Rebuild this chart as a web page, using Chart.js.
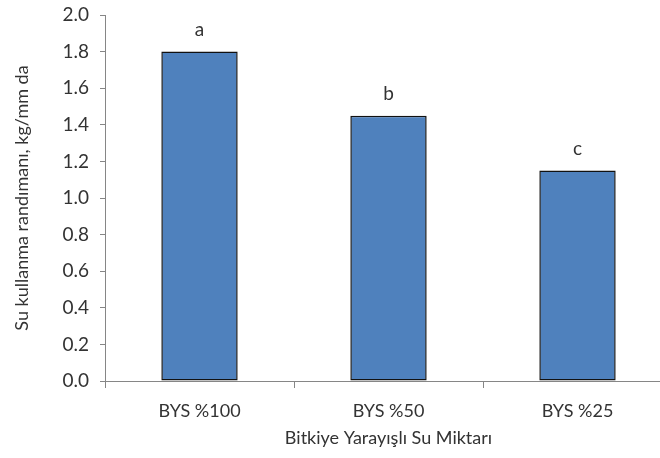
<!DOCTYPE html>
<html>
<head>
<meta charset="utf-8">
<script src="https://cdn.jsdelivr.net/npm/chart.js@4"></script>
<style>
  html, body { margin: 0; padding: 0; background: #fff; overflow: hidden; }
  #wrap { width: 672px; height: 458px; }
</style>
</head>
<body>
<div id="wrap"><canvas id="wueChart"></canvas></div>
<script>
// data
const categories = ['BYS %100', 'BYS %50', 'BYS %25'];
const wueValues = [1.80, 1.45, 1.15];
const groupLetters = ['a', 'b', 'c'];

const textColor = '#333333';
const axisColor = '#868686';
const fontFamily = 'Lato, "Open Sans", sans-serif';

// letters above bars
const letterPlugin = {
    id: 'groupLetters',
    afterDatasetsDraw(chart) {
        const ctx = chart.ctx;
        const meta = chart.getDatasetMeta(0);
        ctx.save();
        ctx.fillStyle = textColor;
        ctx.font = '19px ' + fontFamily;
        ctx.textAlign = 'center';
        ctx.textBaseline = 'middle';
        meta.data.forEach((bar, i) => {
            ctx.fillText(groupLetters[i], bar.x, bar.y - 22);
        });
        ctx.restore();
    }
};

new Chart(document.getElementById('wueChart'), {
    type: 'bar',
    data: {
        labels: categories,
        datasets: [{
            data: wueValues,
            backgroundColor: '#4F81BD',
            borderColor: '#111111',
            borderWidth: 1.5,
            borderSkipped: false,
            barPercentage: 0.404,
            categoryPercentage: 1.0
        }]
    },
    options: {
        responsive: true,
        maintainAspectRatio: false,
        animation: false,
        layout: { padding: { top: 15, right: 0, left: 0, bottom: 4 } },
        plugins: {
            legend: { display: false },
            tooltip: { enabled: false }
        },
        scales: {
            x: {
                offset: true,
                grid: {
                    offset: true,
                    drawOnChartArea: false,
                    color: axisColor,
                    tickLength: 7,
                    tickColor: axisColor
                },
                border: { color: axisColor, width: 1 },
                ticks: { color: textColor, font: { size: 18, family: fontFamily }, padding: 12 },
                title: {
                    display: true,
                    text: 'Bitkiye Yarayışlı Su Miktarı',
                    color: textColor,
                    font: { size: 18, family: fontFamily },
                    padding: { top: 8, bottom: 5 }
                },
                afterFit: s => { s.height = 73; }
            },
            y: {
                min: 0,
                max: 2.0,
                ticks: {
                    stepSize: 0.2,
                    color: textColor,
                    font: { size: 19, family: fontFamily },
                    padding: 11,
                    callback: v => v.toFixed(1)
                },
                grid: {
                    drawOnChartArea: false,
                    color: axisColor,
                    tickLength: 5,
                    tickColor: axisColor
                },
                border: { color: axisColor, width: 1 },
                title: {
                    display: true,
                    text: 'Su kullanma randımanı, kg/mm da',
                    color: textColor,
                    font: { size: 18, family: fontFamily },
                    padding: { top: 11, bottom: 0 }
                },
                afterFit: s => { s.width = 105; s.paddingTop = 0; s.paddingBottom = 0; }
            }
        }
    },
    plugins: [letterPlugin]
});
</script>
</body>
</html>
